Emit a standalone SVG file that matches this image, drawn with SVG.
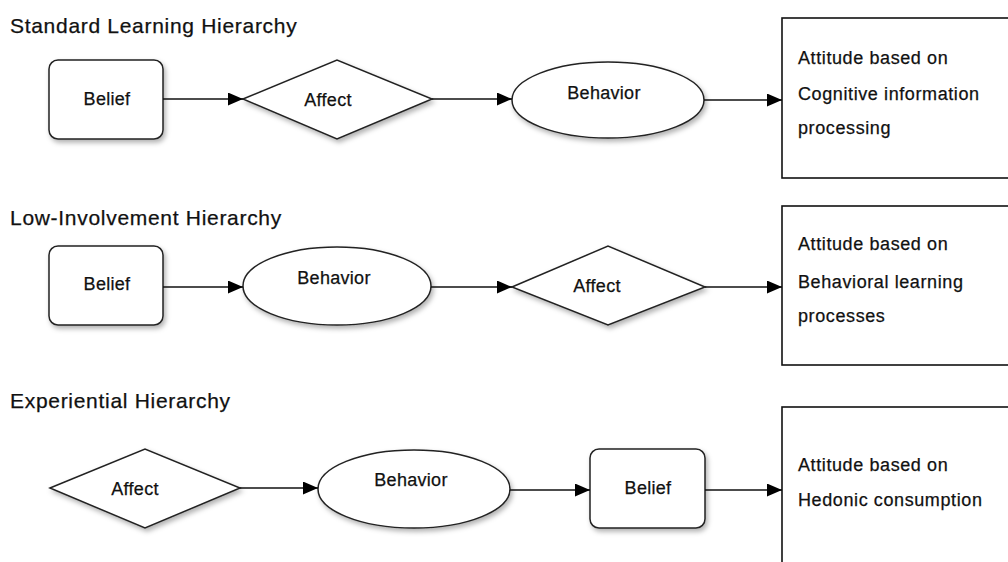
<svg xmlns="http://www.w3.org/2000/svg" width="1008" height="562" viewBox="0 0 1008 562">
  <defs>
    <filter id="shadow" x="-20%" y="-20%" width="140%" height="150%">
      <feDropShadow dx="2" dy="3" stdDeviation="2.5" flood-color="#000" flood-opacity="0.3"/>
    </filter>
    <marker id="arrow" viewBox="0 0 15 13" refX="15" refY="6.5" markerWidth="15" markerHeight="13" markerUnits="userSpaceOnUse" orient="auto">
      <path d="M0,0 L15,6.5 L0,13 Z" fill="#000"/>
    </marker>
  </defs>
  <style>
    .title { font-family: "Liberation Sans", Arial, sans-serif; font-size: 21px; letter-spacing: 0.7px; fill: #111; stroke: #111; stroke-width: 0.25px; }
    .label { font-family: "Liberation Sans", Arial, sans-serif; font-size: 18px; letter-spacing: 0.3px; fill: #111; stroke: #111; stroke-width: 0.25px; text-anchor: middle; }
    .note { font-family: "Liberation Sans", Arial, sans-serif; font-size: 18px; letter-spacing: 0.6px; fill: #111; stroke: #111; stroke-width: 0.25px; }
    .shape { fill: #fff; stroke: #222; stroke-width: 1.5; filter: url(#shadow); }
    .box { fill: #fff; stroke: #111; stroke-width: 1.6; }
    .edge { stroke: #111; stroke-width: 1.6; fill: none; marker-end: url(#arrow); }
  </style>
  <rect width="1008" height="562" fill="#fff"/>

  <!-- section headings -->
  <text class="title" x="10" y="33">Standard Learning Hierarchy</text>
  <text class="title" x="10" y="225">Low-Involvement Hierarchy</text>
  <text class="title" x="10" y="408">Experiential Hierarchy</text>

  <!-- row 1: standard learning -->
  <g id="r1-belief">
    <rect class="shape" x="49" y="60" width="114" height="79" rx="9"/>
    <text class="label" x="107" y="105">Belief</text>
  </g>
  <g id="r1-affect">
    <polygon class="shape" points="243,99 337,60 432,99 337,139"/>
    <text class="label" x="328" y="106">Affect</text>
  </g>
  <g id="r1-behavior">
    <ellipse class="shape" cx="608" cy="100" rx="96" ry="38"/>
    <text class="label" x="604" y="99">Behavior</text>
  </g>
  <g id="r1-attitude">
    <rect class="box" x="782" y="18" width="240" height="160"/>
    <text class="note" x="798" y="64">Attitude based on</text>
    <text class="note" x="798" y="100">Cognitive information</text>
    <text class="note" x="798" y="134">processing</text>
  </g>

  <!-- row 2: low involvement -->
  <g id="r2-belief">
    <rect class="shape" x="49" y="246" width="114" height="79" rx="9"/>
    <text class="label" x="107" y="290">Belief</text>
  </g>
  <g id="r2-behavior">
    <ellipse class="shape" cx="337" cy="286" rx="94" ry="39"/>
    <text class="label" x="334" y="284">Behavior</text>
  </g>
  <g id="r2-affect">
    <polygon class="shape" points="512,287 608,246 705,287 608,325"/>
    <text class="label" x="597" y="292">Affect</text>
  </g>
  <g id="r2-attitude">
    <rect class="box" x="782" y="206" width="240" height="159"/>
    <text class="note" x="798" y="250">Attitude based on</text>
    <text class="note" x="798" y="288">Behavioral learning</text>
    <text class="note" x="798" y="322">processes</text>
  </g>

  <!-- row 3: experiential -->
  <g id="r3-affect">
    <polygon class="shape" points="50,488 145,449 240,488 145,528"/>
    <text class="label" x="135" y="495">Affect</text>
  </g>
  <g id="r3-behavior">
    <ellipse class="shape" cx="414" cy="489" rx="96" ry="39"/>
    <text class="label" x="411" y="486">Behavior</text>
  </g>
  <g id="r3-belief">
    <rect class="shape" x="590" y="449" width="115" height="79" rx="9"/>
    <text class="label" x="648" y="494">Belief</text>
  </g>
  <g id="r3-attitude">
    <rect class="box" x="782" y="407" width="240" height="170"/>
    <text class="note" x="798" y="471">Attitude based on</text>
    <text class="note" x="798" y="506">Hedonic consumption</text>
  </g>

  <!-- connectors -->
  <g id="connectors">
    <line class="edge" x1="163" y1="99" x2="243" y2="99"/>
    <line class="edge" x1="432" y1="99" x2="512" y2="99"/>
    <line class="edge" x1="704" y1="100" x2="782" y2="100"/>

    <line class="edge" x1="163" y1="287" x2="243" y2="287"/>
    <line class="edge" x1="431" y1="287" x2="512" y2="287"/>
    <line class="edge" x1="705" y1="287" x2="782" y2="287"/>

    <line class="edge" x1="240" y1="488" x2="318" y2="488"/>
    <line class="edge" x1="510" y1="490" x2="590" y2="490"/>
    <line class="edge" x1="705" y1="490" x2="782" y2="490"/>
  </g>
</svg>
